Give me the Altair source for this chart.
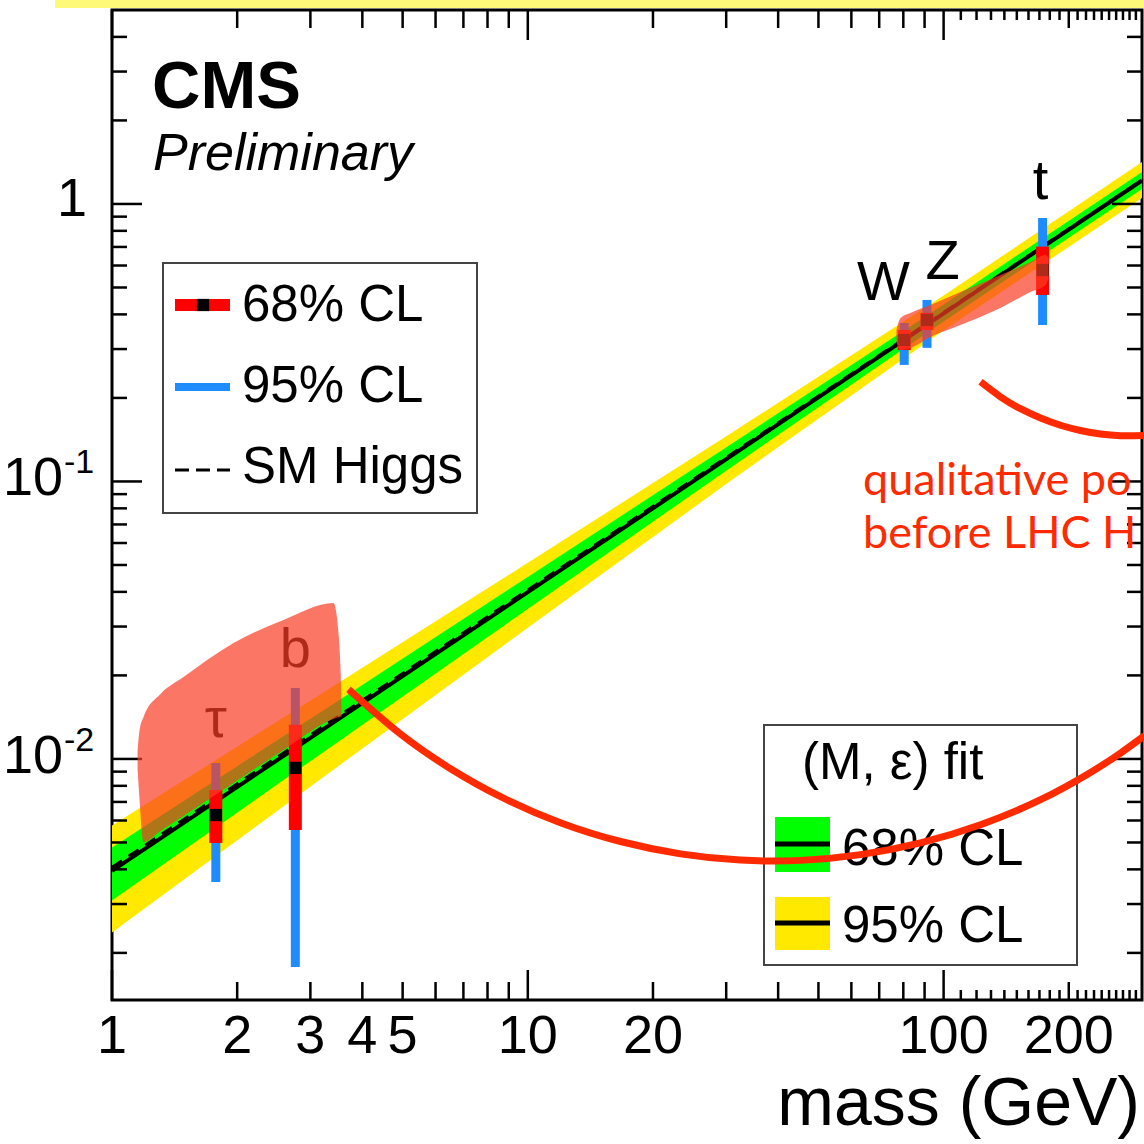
import altair as alt
import pandas as pd

W, H = 1030, 990
X_DOMAIN = [1, 300]
Y_DOMAIN = [0.001353, 5]
FONT = "Liberation Sans"
RED_NOTE = "#ff2a00"

# ---------------- data ----------------
# (M, eps) fit bands
band_mass = [1, 3.16, 10, 31.6, 100, 300]
y95_lo = [0.00237, 0.00842, 0.0297, 0.1036, 0.350, 1.050]
y95_hi = [0.00576, 0.01704, 0.0509, 0.1529, 0.468, 1.416]
y68_lo = [0.00309, 0.01036, 0.0347, 0.1154, 0.3773, 1.132]
y68_hi = [0.00480, 0.01468, 0.0453, 0.1396, 0.4346, 1.304]

# fit line and SM Higgs line
line_mass = [1, 300]
fit_y = [0.00395, 1.215]
sm_y = [0.004065, 1.2195]

# measured couplings
particles = ["τ", "b", "W", "Z", "t"]
p_mass = [1.777, 2.76, 80.4, 91.2, 173.0]
p_val = [0.00628, 0.00928, 0.3235, 0.382, 0.578]
p_68_lo = [0.00498, 0.00555, 0.2977, 0.3515, 0.470]
p_68_hi = [0.00773, 0.01327, 0.3515, 0.405, 0.702]
p_95_lo = [0.00360, 0.00178, 0.263, 0.303, 0.366]
p_95_hi = [0.00967, 0.01803, 0.3725, 0.451, 0.890]
label_mass = [1.777, 2.76, 71.7, 99.4, 171.0]
label_y = [0.0138, 0.0247, 0.519, 0.618, 1.20]

# annotation shapes (in data units)
blob1_mass = [1.152, 1.165, 1.191, 1.308, 1.486, 1.960, 2.585, 3.410, 3.505, 3.544, 3.565]
blob1_hi = [0.01060, 0.01272, 0.01417, 0.01715, 0.01975, 0.02618, 0.03169, 0.03649, 0.02844, 0.02128, 0.01565]
blob1_lo = [0.00928, 0.00712, 0.00502, 0.00550, 0.00623, 0.00819, 0.01078, 0.01393, 0.01412, 0.01420, 0.01429]

blob2_mass = [77.0, 78.8, 83.2, 93.0, 109.8, 137.0, 161.8, 175.9, 178.8]
blob2_hi = [0.3515, 0.3883, 0.4047, 0.4325, 0.4818, 0.5548, 0.6180, 0.6550, 0.6389]
blob2_lo = [0.3182, 0.2977, 0.3028, 0.3318, 0.3664, 0.4219, 0.4818, 0.5105, 0.5413]

arc1_mass = [3.705, 4.942, 6.52, 8.60, 11.98, 16.71, 23.29, 32.47, 45.27, 63.11,
             87.99, 122.7, 171.1, 225.6, 266.4, 304.2]
arc1_y = [0.01781, 0.01229, 0.00922, 0.00731, 0.00589, 0.00504, 0.00455, 0.00432,
          0.00431, 0.00452, 0.00498, 0.00579, 0.00713, 0.00894, 0.01050, 0.01213]
arc2_mass = [122.7, 137.0, 153.0, 171.1, 191.0, 213.4, 238.4, 266.4, 304.2]
arc2_y = [0.2285, 0.2019, 0.1829, 0.1693, 0.1594, 0.1526, 0.1482, 0.1462, 0.1464]

# axis ticks and labels
x_label_vals = [1, 2, 3, 4, 5, 10, 20, 100, 200]
x_label_text = ["1", "2", "3", "4", "5", "10", "20", "100", "200"]
x_title = "mass (GeV)"
x_major = [1, 10, 100]
x_minor = [2, 3, 4, 5, 6, 7, 8, 9, 20, 30, 40, 50, 60, 70, 80, 90, 200]
x_fine = [110, 120, 130, 140, 150, 160, 170, 180, 190,
          210, 220, 230, 240, 250, 260, 270, 280, 290]
y_label_vals = [0.01, 0.1, 1]
y_label_base = ["10", "10", "1"]
y_label_sup = ["-2", "-1", ""]
y_major = [0.01, 0.1, 1]
y_minor = [0.002, 0.003, 0.004, 0.005, 0.006, 0.007, 0.008, 0.009,
           0.02, 0.03, 0.04, 0.05, 0.06, 0.07, 0.08, 0.09,
           0.2, 0.3, 0.4, 0.5, 0.6, 0.7, 0.8, 0.9, 2, 3, 4]

# ---------------- scales ----------------
xs = alt.Scale(type="log", domain=X_DOMAIN, nice=False)
ys = alt.Scale(type="log", domain=Y_DOMAIN, nice=False)

X = lambda f: alt.X(f, scale=xs, axis=None)
Y = lambda f: alt.Y(f, scale=ys, axis=None)

band_df = pd.DataFrame({"m": band_mass, "y95_lo": y95_lo, "y95_hi": y95_hi,
                        "y68_lo": y68_lo, "y68_hi": y68_hi})
line_df = pd.DataFrame({"m": line_mass, "fit": fit_y, "sm": sm_y})
pts_df = pd.DataFrame({"name": particles, "m": p_mass, "val": p_val,
                       "lo68": p_68_lo, "hi68": p_68_hi, "lo95": p_95_lo, "hi95": p_95_hi,
                       "lm": label_mass, "ly": label_y})
blob1_df = pd.DataFrame({"m": blob1_mass, "lo": blob1_lo, "hi": blob1_hi})
blob2_df = pd.DataFrame({"m": blob2_mass, "lo": blob2_lo, "hi": blob2_hi})
arc1_df = pd.DataFrame({"m": arc1_mass, "y": arc1_y})
arc2_df = pd.DataFrame({"m": arc2_mass, "y": arc2_y})
xlab_df = pd.DataFrame({"v": x_label_vals, "t": x_label_text})
ylab_df = pd.DataFrame({"v": y_label_vals, "base": y_label_base, "sup": y_label_sup})

ONE = pd.DataFrame({"k": [0]})


def ptext(s, x, y, size, color="black", font=FONT, align="left", baseline="middle", **kw):
    return alt.Chart(pd.DataFrame({"s": [s]})).mark_text(
        fontSize=size, font=font, align=align, baseline=baseline, color=color, **kw
    ).encode(x=alt.value(x), y=alt.value(y), text="s:N")


def prule(x, x2, y, **kw):
    return alt.Chart(ONE).mark_rule(**kw).encode(x=alt.value(x), x2=alt.value(x2), y=alt.value(y))


def prect(x, x2, y, y2, **kw):
    return alt.Chart(ONE).mark_rect(**kw).encode(
        x=alt.value(x), x2=alt.value(x2), y=alt.value(y), y2=alt.value(y2))


# ---------------- layers ----------------
yellow = alt.Chart(band_df).mark_area(color="#ffe900", clip=True).encode(
    x=X("m:Q"), y=Y("y95_lo:Q"), y2="y95_hi:Q")
green = alt.Chart(band_df).mark_area(color="#00ff00", clip=True).encode(
    x=X("m:Q"), y=Y("y68_lo:Q"), y2="y68_hi:Q")
fit = alt.Chart(line_df).mark_line(color="black", strokeWidth=4, clip=True).encode(
    x=X("m:Q"), y=Y("fit:Q"))
sm = alt.Chart(line_df).mark_line(color="black", strokeWidth=3, strokeDash=[12, 8],
                                  clip=True).encode(x=X("m:Q"), y=Y("sm:Q"))
blue = alt.Chart(pts_df).mark_rule(color="#1e8cff", strokeWidth=9).encode(
    x=X("m:Q"), y=Y("lo95:Q"), y2="hi95:Q")
red = alt.Chart(pts_df).mark_rule(color="#ff0000", strokeWidth=13).encode(
    x=X("m:Q"), y=Y("lo68:Q"), y2="hi68:Q")
marks = alt.Chart(pts_df).mark_square(color="black", size=150, opacity=1).encode(
    x=X("m:Q"), y=Y("val:Q"))
labels = alt.Chart(pts_df).mark_text(fontSize=56, font=FONT, color="black",
                                     baseline="middle").encode(
    x=X("lm:Q"), y=Y("ly:Q"), text="name:N")

# axis labels (drawn as text through the scales)
xlabels = alt.Chart(xlab_df).mark_text(fontSize=54, font=FONT, color="black",
                                       baseline="middle", align="center").encode(
    x=X("v:Q"), y=alt.value(H + 37), text="t:N")
ylab_one = alt.Chart(ylab_df).transform_filter("datum.sup == ''").mark_text(
    fontSize=54, font=FONT, color="black", baseline="middle", align="right", dy=-4).encode(
    y=Y("v:Q"), x=alt.value(-25), text="base:N")
ylab_ten = alt.Chart(ylab_df).transform_filter("datum.sup != ''").mark_text(
    fontSize=54, font=FONT, color="black", baseline="middle", align="right", dy=-2).encode(
    y=Y("v:Q"), x=alt.value(-49), text="base:N")
ylab_sup = alt.Chart(ylab_df).transform_filter("datum.sup != ''").mark_text(
    fontSize=34, font=FONT, color="black", baseline="middle", align="left", dy=-18).encode(
    y=Y("v:Q"), x=alt.value(-48), text="sup:N")
xtitle = ptext(x_title, W - 2, 1115, 68, align="right", baseline="alphabetic")


def xticks(vals, length):
    df = pd.DataFrame({"v": vals})
    b = alt.Chart(df).mark_rule(color="black", strokeWidth=2.5).encode(
        x=X("v:Q"), y=alt.value(H - length), y2=alt.value(H))
    t = alt.Chart(df).mark_rule(color="black", strokeWidth=2.5).encode(
        x=X("v:Q"), y=alt.value(0), y2=alt.value(length))
    return [b, t]


def yticks(vals, length):
    df = pd.DataFrame({"v": vals})
    l = alt.Chart(df).mark_rule(color="black", strokeWidth=2.5).encode(
        y=Y("v:Q"), x=alt.value(0), x2=alt.value(length))
    r = alt.Chart(df).mark_rule(color="black", strokeWidth=2.5).encode(
        y=Y("v:Q"), x=alt.value(W - length), x2=alt.value(W))
    return [l, r]


ticks = (xticks(x_major, 30) + xticks(x_minor, 18) + xticks(x_fine, 10)
         + yticks(y_major, 30) + yticks(y_minor, 15))

# CMS label
cms = [ptext("CMS", 40, 98, 67, fontWeight="bold", baseline="alphabetic"),
       ptext("Preliminary", 41, 160, 52, fontStyle="italic", baseline="alphabetic")]

# legend 1
leg1 = [prect(51, 365, 253, 503, fill="white", stroke="#444444", strokeWidth=2),
        prule(63, 118, 295, color="#ff0000", strokeWidth=12),
        alt.Chart(ONE).mark_square(color="black", size=150, opacity=1).encode(
            x=alt.value(91), y=alt.value(295)),
        ptext("68% CL", 130, 296, 51),
        prule(63, 118, 377, color="#1e8cff", strokeWidth=8),
        ptext("95% CL", 130, 377, 51),
        prule(63, 118, 460, color="black", strokeWidth=3, strokeDash=[14, 7]),
        ptext("SM Higgs", 130, 458, 51)]

# legend 2
leg2 = [prect(652, 965, 715, 955, fill="white", stroke="#444444", strokeWidth=2),
        ptext("(M, ε) fit", 690, 754, 51),
        prect(663, 718, 807, 862, fill="#00ff00"),
        prule(663, 718, 834, color="black", strokeWidth=5),
        ptext("68% CL", 730, 840, 51),
        prect(663, 718, 887, 940, fill="#ffe900"),
        prule(663, 718, 913, color="black", strokeWidth=5),
        ptext("95% CL", 730, 917, 51)]

# annotations
blob1 = alt.Chart(blob1_df).mark_area(color="#fa3c23", opacity=0.7,
                                       interpolate="monotone").encode(
    x=X("m:Q"), y=Y("lo:Q"), y2="hi:Q")
blob2 = alt.Chart(blob2_df).mark_area(color="#fa3c23", opacity=0.7,
                                       interpolate="monotone").encode(
    x=X("m:Q"), y=Y("lo:Q"), y2="hi:Q")
arc1 = alt.Chart(arc1_df).mark_line(color=RED_NOTE, strokeWidth=7,
                                     interpolate="natural").encode(x=X("m:Q"), y=Y("y:Q"))
arc2 = alt.Chart(arc2_df).mark_line(color=RED_NOTE, strokeWidth=7,
                                     interpolate="natural").encode(x=X("m:Q"), y=Y("y:Q"))
note = [ptext("qualitative po", 751, 485, 45, color=RED_NOTE, font="Lato",
              baseline="alphabetic"),
        ptext("before LHC H", 751, 538, 45, color=RED_NOTE, font="Lato",
              baseline="alphabetic")]
strip = [prect(-57, 1032, -10, -2, fill="#fff97a")]

layers = ([yellow, green, fit, sm, blue, red, marks, labels, xlabels, ylab_one,
           ylab_ten, ylab_sup, xtitle] + cms + leg1 + leg2
          + ticks + [blob1, blob2, arc1, arc2] + note + strip)

chart = alt.layer(*layers).properties(
    width=W, height=H, background="white",
    padding={"left": 112, "top": 10, "right": 2, "bottom": 144},
    autosize=alt.AutoSizeParams(type="none"),
).configure_view(stroke="black", strokeWidth=3)

chart.save("out.html", embed_options={"renderer": "svg", "actions": False})
